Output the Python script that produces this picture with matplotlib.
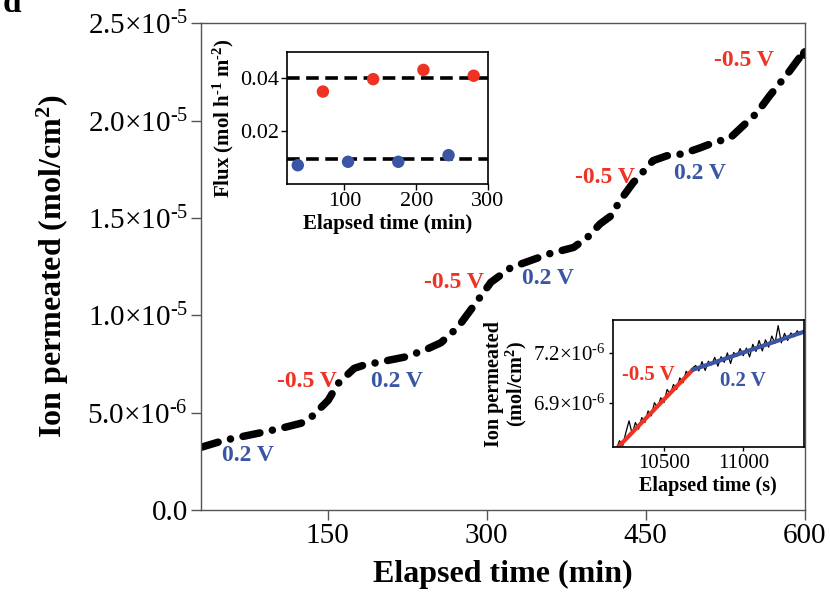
import matplotlib
matplotlib.use("Agg")
import matplotlib.pyplot as plt
import numpy as np

plt.rcParams['font.family'] = ['Liberation Serif', 'DejaVu Serif']
plt.rcParams['mathtext.fontset'] = 'custom'
plt.rcParams['mathtext.rm'] = 'Liberation Serif'
plt.rcParams['mathtext.bf'] = 'Liberation Serif:bold'
plt.rcParams['mathtext.default'] = 'regular'

RED = '#EE3224'
BLUE = '#3A55A4'

# ---------------- main data (time in min, permeated in 1e-6 mol/cm2)
main_t = [31, 53, 85, 106, 125, 134.5, 150.5, 160, 175, 184, 222, 241, 257, 273,
          292, 304, 323, 360, 382, 395, 407, 417, 426, 438, 448, 457, 470, 485,
          501, 514, 530, 542, 555, 567, 577, 586, 593, 598, 600]
main_y = [3.23, 3.59, 3.95, 4.20, 4.46, 4.77, 5.64, 6.51, 7.28, 7.44, 7.85, 8.20,
          8.60, 9.40, 10.8, 11.7, 12.46, 13.18, 13.49, 14.0, 14.7, 15.1, 15.9,
          16.8, 17.4, 17.95, 18.2, 18.3, 18.6, 18.87, 19.13, 19.74, 20.4, 21.28,
          21.95, 22.56, 23.08, 23.43, 23.5]
main_xticks = [150, 300, 450, 600]
main_yticks = [0.0, 5e-6, 1e-5, 1.5e-5, 2e-5, 2.5e-5]
main_yticklabels = ['0.0', r'5.0×10$^{\text{-}6}$', r'1.0×10$^{\text{-}5}$',
                    r'1.5×10$^{\text{-}5}$', r'2.0×10$^{\text{-}5}$',
                    r'2.5×10$^{\text{-}5}$']

# voltage annotations (label, x min, y 1e-6, colour key)
ann_text = ['0.2 V', '-0.5 V', '0.2 V', '-0.5 V', '0.2 V', '-0.5 V', '0.2 V', '-0.5 V']
ann_x = [75, 130, 215, 269, 358, 412, 501, 543]
ann_y = [2.8, 6.6, 6.6, 11.7, 11.9, 17.1, 17.3, 23.1]
ann_c = ['b', 'r', 'b', 'r', 'b', 'r', 'b', 'r']

# ---------------- inset 1: flux
flux_red_t = [70, 140, 210, 280]
flux_red = [0.0350, 0.0397, 0.0432, 0.0410]
flux_blue_t = [35, 105, 175, 245]
flux_blue = [0.0071, 0.0084, 0.0084, 0.0109]
flux_mean_red = 0.040
flux_mean_blue = 0.0096

# ---------------- inset 2: zoom (time s, permeated 1e-6)
zoom_t = [10200, 10220, 10240, 10260, 10280, 10300, 10320, 10340, 10360, 10380,
          10400, 10420, 10440, 10460, 10480, 10500, 10520, 10540, 10560, 10580,
          10600, 10620, 10640, 10660, 10680, 10700, 10720, 10740, 10760, 10780,
          10800, 10820, 10840, 10860, 10880, 10900, 10920, 10940, 10960, 10980,
          11000, 11020, 11040, 11060, 11080, 11100, 11120, 11140, 11160, 11180,
          11200, 11220, 11240, 11260, 11280, 11300, 11320, 11340, 11360, 11380]
zoom_y = [6.62, 6.67, 6.64, 6.72, 6.79, 6.71, 6.78, 6.74, 6.81, 6.78,
          6.85, 6.82, 6.90, 6.87, 6.93, 6.90, 6.98, 6.95, 7.01, 6.98,
          7.05, 7.02, 7.09, 7.07, 7.11, 7.125, 7.092, 7.148, 7.095, 7.151,
          7.128, 7.174, 7.121, 7.178, 7.144, 7.201, 7.137, 7.204, 7.180, 7.227,
          7.184, 7.230, 7.177, 7.253, 7.210, 7.276, 7.213, 7.280, 7.236, 7.303,
          7.259, 7.366, 7.262, 7.319, 7.276, 7.322, 7.299, 7.335, 7.312, 7.338]
fit_red_t = [10212, 10681]
fit_red_y = [6.632, 7.099]
fit_blue_t = [10685, 11379]
fit_blue_y = [7.100, 7.328]

# =====================================================================
fig = plt.figure(figsize=(8.30, 6.02), dpi=100)
ax = fig.add_axes([0.2416, 0.1528, 0.7277, 0.8082])

ax.plot(main_t, np.array(main_y) * 1e-6, color='black', lw=5.4,
        linestyle=(0, (2.3, 1.7, 0.01, 1.7)), dash_capstyle='round',
        solid_capstyle='round')
ax.plot(main_t[-1], main_y[-1] * 1e-6, 'o', color='black', ms=7)

ax.set_xlim(30, 600)
ax.set_ylim(0, 2.5e-5)
ax.set_xticks(main_xticks)
ax.set_xticklabels([str(v) for v in main_xticks])
ax.set_yticks(main_yticks)
ax.set_yticklabels(main_yticklabels)
ax.tick_params(axis='both', direction='out', length=7, width=1, color='#555555',
               labelsize=21, pad=2)
for s in ax.spines.values():
    s.set_color('#555555')
    s.set_linewidth(1)
ax.set_xlabel('Elapsed time (min)', fontsize=23, fontweight='bold', labelpad=8)
ax.set_ylabel('Ion permeated (mol/cm$^{2}$)', fontsize=23, fontweight='bold',
              labelpad=12)

for t, x, y, c in zip(ann_text, ann_x, ann_y, ann_c):
    ax.text(x, y * 1e-6, t, color=RED if c == 'r' else BLUE, fontsize=17,
            fontweight='bold', ha='center', va='center')

fig.text(0.003, 0.995, 'd', fontsize=24, fontweight='bold', ha='left', va='center')

# ---------------- inset 1
ax1 = fig.add_axes([0.3458, 0.6944, 0.2422, 0.2193])
ax1.axhline(flux_mean_red, color='black', lw=2.6, linestyle=(0, (3.5, 1.8)))
ax1.axhline(flux_mean_blue, color='black', lw=2.6, linestyle=(0, (3.5, 1.8)))
ax1.scatter(flux_red_t, flux_red, s=80, color=RED, zorder=3, edgecolors='none')
ax1.scatter(flux_blue_t, flux_blue, s=80, color=BLUE, zorder=3, edgecolors='none')
ax1.set_xlim(20, 300)
ax1.set_ylim(0, 0.05)
ax1.set_xticks([100, 200, 300])
ax1.set_yticks([0.02, 0.04])
ax1.set_yticklabels(['0.02', '0.04'])
ax1.tick_params(direction='out', length=4, width=1, labelsize=16, pad=2)
for s in ax1.spines.values():
    s.set_linewidth(1.2)
ax1.set_xlabel('Elapsed time (min)', fontsize=15, fontweight='bold', labelpad=2)
ax1.set_ylabel(r'Flux (mol h$^{\text{-}1}$ m$^{\text{-}2}$)', fontsize=15,
               fontweight='bold', labelpad=3)

# ---------------- inset 2
ax2 = fig.add_axes([0.7382, 0.2570, 0.2305, 0.2114])
ax2.plot(zoom_t, np.array(zoom_y) * 1e-6, color='black', lw=0.9)
ax2.plot(fit_red_t, np.array(fit_red_y) * 1e-6, color=RED, lw=3)
ax2.plot(fit_blue_t, np.array(fit_blue_y) * 1e-6, color=BLUE, lw=3)
ax2.set_xlim(10177, 11383)
ax2.set_ylim(6.63e-6, 7.40e-6)
ax2.set_xticks([10500, 11000])
ax2.set_yticks([6.9e-6, 7.2e-6])
ax2.set_yticklabels([r'6.9×10$^{\text{-}6}$', r'7.2×10$^{\text{-}6}$'])
ax2.tick_params(direction='out', length=3, width=1, labelsize=15, pad=2)
for s in ax2.spines.values():
    s.set_linewidth(1.2)
ax2.set_xlabel('Elapsed time (s)', fontsize=14.5, fontweight='bold', labelpad=2)
ax2.set_ylabel('Ion permeated\n(mol/cm$^{2}$)', fontsize=14.5, fontweight='bold',
               labelpad=3, linespacing=1.0)
ax2.text(10400, 7.07e-6, '-0.5 V', color=RED, fontsize=15, fontweight='bold',
         ha='center', va='center')
ax2.text(11000, 7.03e-6, '0.2 V', color=BLUE, fontsize=15, fontweight='bold',
         ha='center', va='center')

fig.savefig('out.png', dpi=100)
